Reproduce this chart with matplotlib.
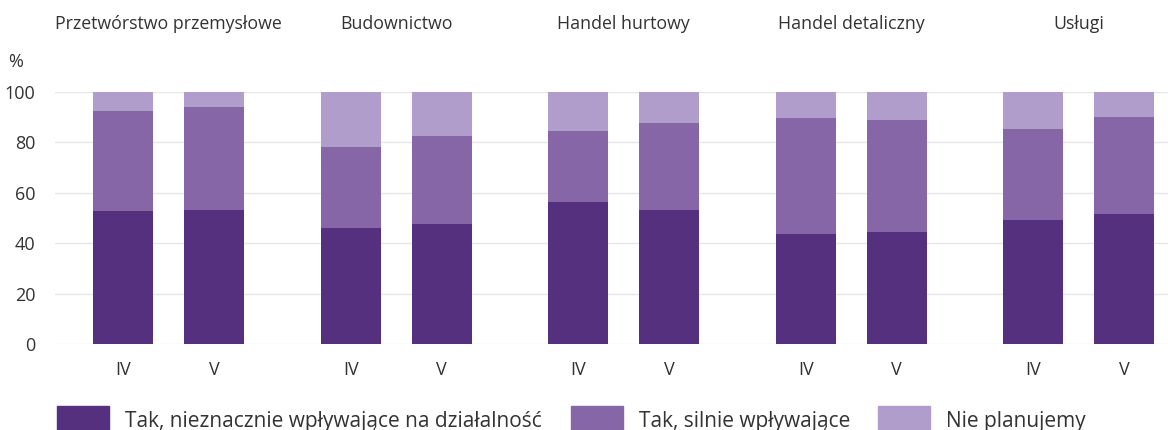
import matplotlib.pyplot as plt
import numpy as np
from matplotlib.patches import Rectangle

plt.rcParams["font.family"] = ["Open Sans", "DejaVu Sans"]

sectors = ["Przetwórstwo przemysłowe", "Budownictwo", "Handel hurtowy",
           "Handel detaliczny", "Usługi"]
months = ["IV", "V"]
series_names = ["Tak, nieznacznie wpływające na działalność",
                "Tak, silnie wpływające", "Nie planujemy"]

# values per sector: [IV, V]
slight = [[52.7, 53.2], [45.9, 47.7], [56.1, 53.1], [43.6, 44.4], [49.2, 51.6]]
strong = [[39.6, 40.7], [32.2, 34.7], [28.5, 34.6], [45.8, 44.4], [36.1, 38.3]]
no_plan = [[7.7, 6.1], [21.9, 17.6], [15.4, 12.3], [10.6, 11.2], [14.7, 10.1]]

colours = ["#55307f", "#8766a8", "#b19dcb"]
text_col = "#333333"

group_step = 2.5
bar_w = 0.66

fig = plt.figure(figsize=(11.68, 4.30), dpi=100)
ax = fig.add_axes([55 / 1168, 0.2, 1 - 55 / 1168, 0.5867])

xs, s1, s2, s3, labels = [], [], [], [], []
for g in range(len(sectors)):
    for m in range(2):
        xs.append(g * group_step + m)
        s1.append(slight[g][m])
        s2.append(strong[g][m])
        s3.append(no_plan[g][m])
        labels.append(months[m])
xs = np.array(xs)
s1, s2, s3 = np.array(s1), np.array(s2), np.array(s3)

ax.bar(xs, s1, bar_w, color=colours[0], zorder=3)
ax.bar(xs, s2, bar_w, bottom=s1, color=colours[1], zorder=3)
ax.bar(xs, s3, bar_w, bottom=s1 + s2, color=colours[2], zorder=3)

ax.set_xlim(-0.75, 11.48)
ax.set_ylim(0, 100)
ax.set_yticks(range(0, 101, 20))
ax.set_xticks(xs)
ax.set_xticklabels(labels)
ax.tick_params(length=0, labelsize=13, colors=text_col)
ax.tick_params(axis="x", pad=12)
ax.tick_params(axis="y", pad=14)
ax.grid(axis="y", color="#e6e6e6", linewidth=1, zorder=0)
for sp in ax.spines.values():
    sp.set_visible(False)

for g, name in enumerate(sectors):
    ax.text(g * group_step + 0.5, 1.27, name, transform=ax.get_xaxis_transform(),
            ha="center", va="center", fontsize=12.8, color=text_col)

fig.text(16 / 1168, 1 - 62 / 430, "%", ha="center", va="center",
         fontsize=13, color=text_col)

# legend
leg_x = [57, 571, 878]
for x0, col, name in zip(leg_x, colours, series_names):
    fig.add_artist(Rectangle((x0 / 1168, -0.01), 52 / 1168, 24 / 430 + 0.01,
                             transform=fig.transFigure, color=col))
    fig.text((x0 + 68) / 1168, 1 - 421 / 430, name, ha="left", va="center",
             fontsize=15, color=text_col)

fig.savefig("out.png", dpi=100)
